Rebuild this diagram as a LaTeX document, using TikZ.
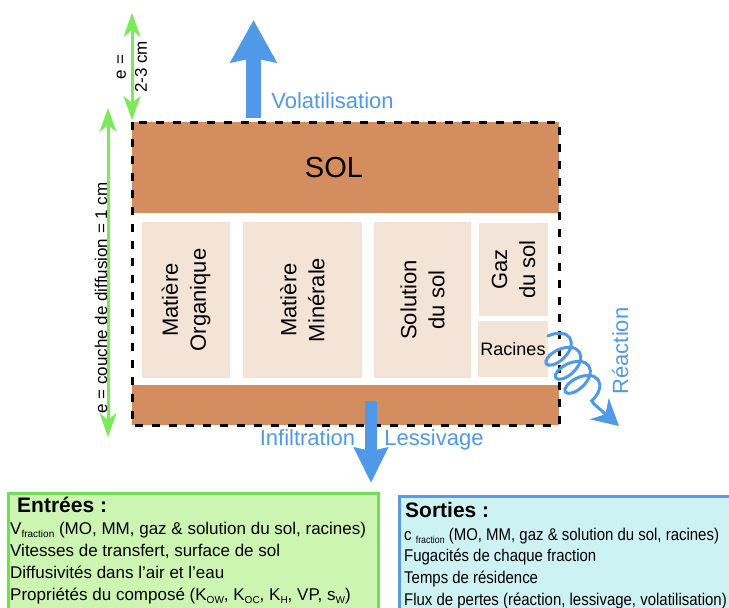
\documentclass[tikz,border=0pt]{standalone}
\usepackage{fontspec}
\setmainfont{Liberation Sans}
\newfontfamily\etroite[FakeStretch=0.88]{Liberation Sans}
\usetikzlibrary{arrows.meta,decorations.pathmorphing}
\definecolor{terre}{RGB}{211,141,95}
\definecolor{fraction}{RGB}{244,227,215}
\definecolor{vert}{RGB}{122,235,88}
\definecolor{bleu}{RGB}{80,152,232}
\definecolor{vertclair}{RGB}{204,245,178}
\definecolor{vertbord}{RGB}{110,224,85}
\definecolor{cyanclair}{RGB}{205,242,243}
\definecolor{bleubord}{RGB}{92,152,230}
\newcommand{\indice}[1]{\raisebox{-3pt}{\fontsize{10}{10}\selectfont #1}}

\begin{document}
\begin{tikzpicture}[x=1pt,y=-1pt,
    compartiment/.style={rotate=90, fill=fraction, inner sep=0pt, align=center,
      font=\fontsize{22}{28}\selectfont},
    epaisseur/.style={draw=vert, line width=3pt,
      {Stealth[length=24pt,width=17pt,inset=7pt]}-{Stealth[length=24pt,width=17pt,inset=7pt]}},
    cote/.style={align=center, font=\fontsize{17}{21}\selectfont},
    legende/.style={text=bleu, inner sep=0pt, font=\fontsize{22}{26}\selectfont},
    ligne/.style={anchor=base west, inner sep=0pt, font=\fontsize{17}{21}\selectfont},
  ]
    \useasboundingbox (0,0) rectangle (729,608);

    % le sol et ses fractions
    \fill[terre] (132,122) rectangle (559,213);
    \node (sol) at (334,168) {\fontsize{29}{34}\selectfont SOL};
    \fill[terre] (132,385) rectangle (559,425);
    \node[compartiment, minimum width=156pt, minimum height=88pt] (mo) at (186,300) {Matière\\Organique};
    \node[compartiment, minimum width=156pt, minimum height=119pt] (mm) at (302.5,300) {Matière\\Minérale};
    \node[compartiment, minimum width=156pt, minimum height=97pt] (solution) at (422.5,300) {Solution\\du sol};
    \node[compartiment, minimum width=93pt, minimum height=69pt] (gaz) at (513.5,269.5) {Gaz\\du sol};
    \node[fill=fraction, inner sep=0pt, minimum width=70pt, minimum height=56pt,
      font=\fontsize{18}{22}\selectfont] (racines) at (513,349) {Racines};
    \draw[line width=3pt, dash pattern=on 8pt off 9pt] (132,122) rectangle (559,425);

    % epaisseurs
    \coordinate (e1h) at (132,13);
    \coordinate (e1b) at (132,120);
    \draw[epaisseur] (e1h) -- (e1b);
    \node[cote, rotate=90] (e1) at (132,67) {e =\\2-3 cm};
    \coordinate (e2h) at (108,108);
    \coordinate (e2b) at (108,437);
    \draw[epaisseur] (e2h) -- (e2b);
    \node[cote, rotate=90] (e2) at (101,298) {e = couche de diffusion = 1 cm};

    % flux de pertes
    \coordinate (v0) at (253.5,118);
    \coordinate (v1) at (253.5,20);
    \draw[bleu, line width=15pt, -{Stealth[length=42pt,width=45pt,inset=4pt]}] (v0) -- (v1);
    \node[legende, anchor=base] (volat) at (332.5,108) {Volatilisation};
    \coordinate (i0) at (371,401);
    \coordinate (i1) at (371,483);
    \draw[bleu, line width=12pt, -{Stealth[length=35pt,width=33pt,inset=3pt]}] (i0) -- (i1);
    \node[legende, anchor=base] (infil) at (307.5,445) {Infiltration};
    \node[legende, anchor=base] (lessiv) at (434,445) {Lessivage};
    \coordinate (r0) at (548,336);
    \coordinate (r1) at (594,404);
    \coordinate (r2) at (619,426);
    \draw[bleu, line width=3pt, line cap=round, decorate,
      decoration={coil, amplitude=17pt, segment length=17pt, aspect=0.55}] (r0) -- (r1);
    \draw[bleu, line width=3pt, -{Stealth[length=26pt,width=28pt,inset=8pt]}] (r1) -- (r2);
    \node[legende, rotate=90, anchor=base] (reac) at (628,351) {Réaction};

    % entrees
    \draw[fill=vertclair, draw=vertbord, line width=3pt] (8,493) rectangle (378,615);
    \node[ligne, font=\bfseries\fontsize{21}{24}\selectfont] (entrees) at (17,512) {Entrées :};
    \node[ligne] (in1) at (10,534) {V\indice{fraction} (MO, MM, gaz \& solution du sol, racines)};
    \node[ligne] (in2) at (10,556) {Vitesses de transfert, surface de sol};
    \node[ligne] (in3) at (10,578) {Diffusivités dans l'air et l'eau};
    \node[ligne] (in4) at (10,600) {Propriétés du composé (K\indice{OW}, K\indice{OC}, K\indice{H}, VP, s\indice{W})};

    % sorties
    \draw[fill=cyanclair, draw=bleubord, line width=3pt] (399,496) rectangle (735,615);
    \node[ligne, font=\bfseries\fontsize{21}{24}\selectfont] (sorties) at (405,517) {Sorties :};
    \node[ligne, font=\etroite\fontsize{17}{21}\selectfont] (out1) at (404,540) {c \indice{fraction} (MO, MM, gaz \& solution du sol, racines)};
    \node[ligne, font=\etroite\fontsize{17}{21}\selectfont] (out2) at (404,561) {Fugacités de chaque fraction};
    \node[ligne, font=\etroite\fontsize{17}{21}\selectfont] (out3) at (404,583) {Temps de résidence};
    \node[ligne, font=\etroite\fontsize{17}{21}\selectfont] (out4) at (404,605) {Flux de pertes (réaction, lessivage, volatilisation)};
\end{tikzpicture}
\end{document}
